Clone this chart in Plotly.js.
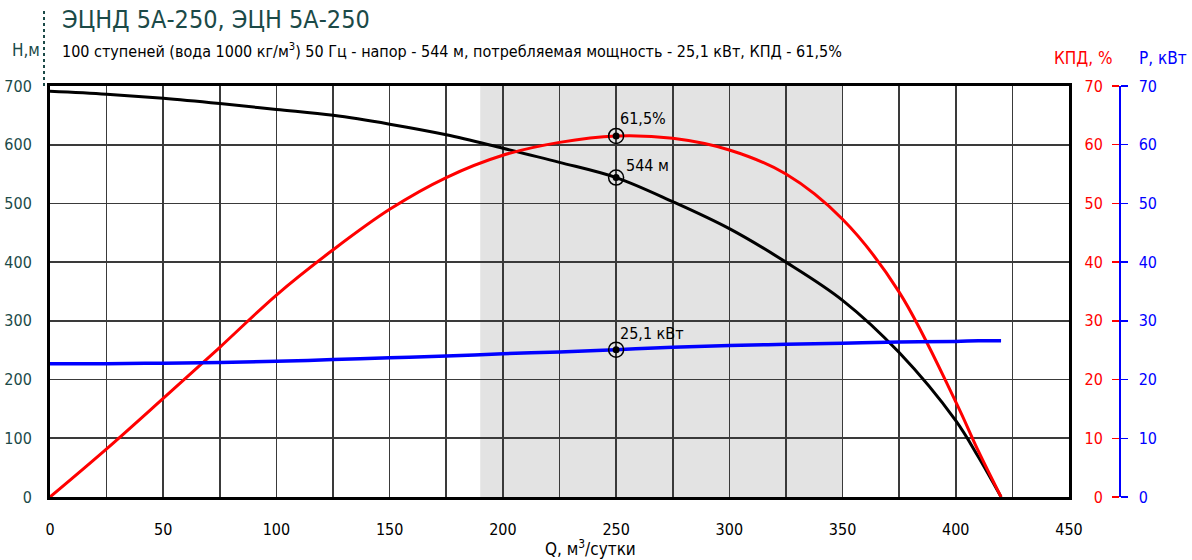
<!DOCTYPE html>
<html>
<head>
<meta charset="utf-8">
<script src="https://cdn.plot.ly/plotly-3.0.1.min.js"></script>
<style>html,body{margin:0;padding:0;background:#fff;}#chart{width:1192px;height:560px;}</style>
</head>
<body>
<div id="chart"></div>
<script>
// Flow rate Q, m3/day
const flow = [0, 25, 50, 75, 100, 125, 150, 175, 200, 225, 250, 275, 300, 325, 350, 375, 400, 410, 420];
// Head H, m
const head = [691, 686, 679, 670, 660, 650, 635, 617, 594, 570, 544, 503, 457, 400, 335, 246, 130, 68, 0];
// Efficiency, %
const efficiency = [0, 8.2, 16.8, 25.5, 34.4, 42.1, 49.0, 54.4, 58.2, 60.4, 61.5, 61.1, 59.1, 55.0, 47.3, 34.9, 16.2, 7.8, 0];
// Power, kW
const power = [22.7, 22.7, 22.8, 22.9, 23.1, 23.4, 23.7, 24.0, 24.4, 24.7, 25.1, 25.5, 25.8, 26.0, 26.2, 26.4, 26.5, 26.6, 26.6];
// Operating point
const opFlow = 250, opHead = 544, opEff = 61.5, opPower = 25.1;
const opLabels = ["544 м", "61,5%", "25,1 кВт"];
// Working range
const rangeMin = 190, rangeMax = 350;
// X tick labels
const xTicks = [0, 50, 100, 150, 200, 250, 300, 350, 400, 450];

const FONT = "'DejaVu Sans Condensed', 'Liberation Sans Narrow', 'Roboto', sans-serif";
const TEAL = '#1b4a48';
const GRID = '#3a3a3a';

function ring(y, yaxis) {
  return [
    {x: [opFlow], y: [y], yaxis: yaxis, type: 'scatter', mode: 'markers', hoverinfo: 'skip', showlegend: false,
     marker: {symbol: 'circle-open', size: 15, color: 'black', line: {width: 1.5, color: 'black'}}},
    {x: [opFlow], y: [y], yaxis: yaxis, type: 'scatter', mode: 'markers', hoverinfo: 'skip', showlegend: false,
     marker: {symbol: 'circle', size: 7, color: 'black'}}
  ];
}

const traces = [
  {x: flow, y: head, type: 'scatter', mode: 'lines', line: {color: 'black', width: 3, shape: 'spline'}, showlegend: false},
  {x: flow, y: power, yaxis: 'y3', type: 'scatter', mode: 'lines', line: {color: '#0000ff', width: 3.5, shape: 'spline'}, showlegend: false},
  {x: flow, y: efficiency, yaxis: 'y2', type: 'scatter', mode: 'lines', line: {color: '#ff0000', width: 3, shape: 'spline'}, showlegend: false}
].concat(ring(opHead, 'y')).concat(ring(opEff, 'y2')).concat(ring(opPower, 'y3'));

const plotRight = (1069 - 50) / 1122;
const axPos = (1119 - 50) / 1122;

const layout = {
  width: 1192, height: 560,
  margin: {l: 50, r: 20, t: 86, b: 63},
  paper_bgcolor: '#fff', plot_bgcolor: '#fff',
  font: {family: FONT, size: 16, color: 'black'},
  showlegend: false,
  xaxis: {
    domain: [0, plotRight], range: [0, 450], tickmode: 'array', tickvals: xTicks, ticktext: xTicks.map(String),
    showgrid: true, gridcolor: GRID, gridwidth: 1.6,
    minor: {tickmode: 'linear', tick0: 0, dtick: 25, showgrid: true, gridcolor: GRID, gridwidth: 1.6, ticks: ''},
    showline: true, linecolor: 'black', linewidth: 3, mirror: true,
    zeroline: false, ticks: '', ticklabelstandoff: 16,
    tickfont: {family: FONT, size: 16, color: 'black'}
  },
  yaxis: {
    range: [0, 700], dtick: 100, showgrid: true, gridcolor: GRID, gridwidth: 1.6,
    showline: true, linecolor: 'black', linewidth: 3, mirror: true, zeroline: false,
    ticks: '', ticklabelstandoff: 12,
    tickfont: {family: FONT, size: 16, color: TEAL}
  },
  yaxis2: {
    overlaying: 'y', anchor: 'free', position: axPos, side: 'left',
    range: [0, 70], dtick: 10, showgrid: false, zeroline: false, showline: false,
    ticks: 'outside', ticklen: 7, tickwidth: 1.5, tickcolor: '#ff0000', ticklabelstandoff: 6,
    tickfont: {family: FONT, size: 16, color: '#ff0000'}
  },
  yaxis3: {
    overlaying: 'y', anchor: 'free', position: axPos, side: 'right',
    range: [0, 70], dtick: 10, showgrid: false, zeroline: false,
    showline: true, linecolor: '#0000ff', linewidth: 1.5,
    ticks: 'outside', ticklen: 7, tickwidth: 1.5, tickcolor: '#0000ff', ticklabelstandoff: 8,
    tickfont: {family: FONT, size: 16, color: '#0000ff'}
  },
  shapes: [
    {type: 'rect', xref: 'x', yref: 'paper', x0: rangeMin, x1: rangeMax, y0: 0, y1: 1,
     fillcolor: '#e3e3e3', line: {width: 0}, layer: 'below'},
    {type: 'line', xref: 'paper', yref: 'paper', x0: -6/1122, x1: -6/1122, y0: 1, y1: 1 + 78/411,
     line: {color: TEAL, width: 2, dash: 'dot'}}
  ],
  annotations: [
    {xref: 'paper', yref: 'paper', x: 10/1122, y: 1 + 67/411, xanchor: 'left', yanchor: 'middle', showarrow: false,
     text: 'ЭЦНД 5А-250, ЭЦН 5А-250', font: {family: FONT, size: 25, color: TEAL}},
    {xref: 'paper', yref: 'paper', x: 10/1122, y: 1 + 36/411, xanchor: 'left', yanchor: 'middle', showarrow: false,
     text: '100 ступеней (вода 1000 кг/м<sup>3</sup>) 50 Гц - напор - 544 м, потребляемая мощность - 25,1 кВт, КПД - 61,5%',
     font: {family: FONT, size: 16, color: 'black'}},
    {xref: 'paper', yref: 'paper', x: -40/1122, y: 1 + 36/411, xanchor: 'left', yanchor: 'middle', showarrow: false,
     text: 'Н,м', font: {family: FONT, size: 17, color: TEAL}},
    {xref: 'paper', yref: 'paper', x: (1083 - 50)/1122, y: 1 + 28/411, xanchor: 'center', yanchor: 'middle', showarrow: false,
     text: 'КПД, %', font: {family: FONT, size: 17, color: '#ff0000'}},
    {xref: 'paper', yref: 'paper', x: (1163 - 50)/1122, y: 1 + 28/411, xanchor: 'center', yanchor: 'middle', showarrow: false,
     text: 'P, кВт', font: {family: FONT, size: 17, color: '#0000ff'}},
    {xref: 'paper', yref: 'paper', x: (590 - 50)/1122, y: -51/411, xanchor: 'center', yanchor: 'middle', showarrow: false,
     text: 'Q, м<sup>3</sup>/сутки', font: {family: FONT, size: 17, color: 'black'}},
    {xref: 'x', yref: 'y', x: opFlow, y: opHead, xanchor: 'left', yanchor: 'middle', showarrow: false,
     xshift: 8, yshift: 12, text: opLabels[0], font: {family: FONT, size: 16, color: 'black'}},
    {xref: 'x', yref: 'y2', x: opFlow, y: opEff, xanchor: 'left', yanchor: 'middle', showarrow: false,
     xshift: 2, yshift: 17, text: opLabels[1], font: {family: FONT, size: 16, color: 'black'}},
    {xref: 'x', yref: 'y3', x: opFlow, y: opPower, xanchor: 'left', yanchor: 'middle', showarrow: false,
     xshift: 2, yshift: 16, text: opLabels[2], font: {family: FONT, size: 16, color: 'black'}}
  ]
};

Plotly.newPlot('chart', traces, layout, {displayModeBar: false, staticPlot: true});
</script>
</body>
</html>
